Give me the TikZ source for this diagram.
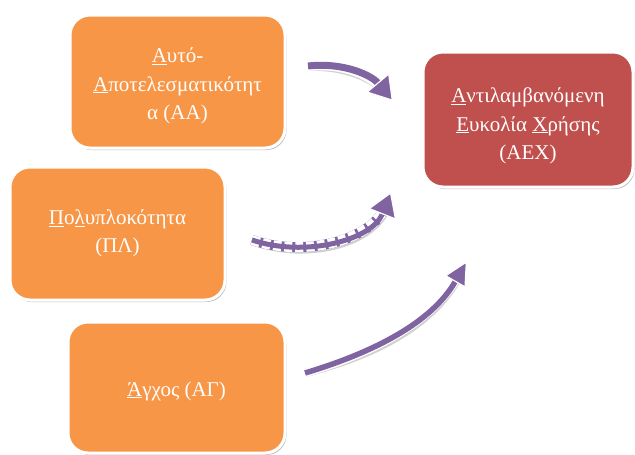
\documentclass[tikz,border=0pt]{standalone}
\usepackage{fontspec}
\setmainfont{Liberation Serif}
\usetikzlibrary{arrows.meta,shadows}
\definecolor{boxorange}{HTML}{F79646}
\definecolor{boxred}{HTML}{C0504D}
\definecolor{arrowpurple}{HTML}{8064A2}
\begin{document}
\begin{tikzpicture}[x=1pt,y=-1pt,
  box/.style={draw=white, line width=3pt, rounded corners=20pt, text=white,
    align=center, inner sep=4pt, font=\fontsize{21}{28.5}\selectfont,
    drop shadow={shadow xshift=1.5pt, shadow yshift=-2pt, opacity=0.25, fill=black}},
  orangebox/.style={box, fill=boxorange},
  redbox/.style={box, fill=boxred},
  arrowshadow/.style={draw=black, opacity=0.18, line width=10pt, shift={(1.5,2.5)}, shorten >=16pt},
  outline/.style={draw=white, line width=10pt, line cap=round, shorten >=16pt},
  shaft/.style={draw=arrowpurple, line width=7pt},
  headtip/.style={-{Triangle[length=24pt,width=30pt,fill=arrowpurple,color=white,line width=1.2pt]}}
]
\useasboundingbox (0,0) rectangle (635,455);

\node[orangebox, minimum width=215pt, minimum height=133pt] (AA) at (177.5,81.5)
  {\rule{0pt}{24pt}\underline{Α}υτό-\\\underline{Α}ποτελεσματικότητ\\α (ΑΑ)};
\node[redbox, minimum width=210pt, minimum height=135pt] (AEX) at (528,119.5)
  {\rule{0pt}{28pt}\underline{Α}ντιλαμβανόμενη\\\underline{Ε}υκολία \underline{Χ}ρήσης\\(ΑΕΧ)};
\node[orangebox, minimum width=215pt, minimum height=133pt] (PL) at (117.5,233.5)
  {\underline{Π}ο\underline{λ}υπλοκότητα\\(ΠΛ)};
\node[orangebox, minimum width=217pt, minimum height=131pt] (AG) at (176.5,387.5)
  {\rule{0pt}{22pt}\underline{Ά}γχος (ΑΓ)};

\coordinate (a1s) at (308,66);
\coordinate (a1e) at (393,101);
\coordinate (a2s) at (252,240);
\coordinate (a2e) at (391,192);
\coordinate (a3s) at (305,373);
\coordinate (a3e) at (467,261);

% top arrow
\draw[arrowshadow] (a1s) .. controls (345,62) and (372,76) .. (a1e);
\draw[outline] (a1s) .. controls (345,62) and (372,76) .. (a1e);
\draw[shaft, headtip] (a1s) .. controls (345,62) and (372,76) .. (a1e);

% dashed arrow
\draw[arrowshadow, line width=10pt] (a2s) .. controls (305,258) and (372,240) .. (a2e);
\draw[draw=arrowpurple, line width=10pt, shorten >=16pt] (a2s) .. controls (305,258) and (372,240) .. (a2e);
\draw[draw=white, line width=10pt, dash pattern=on 8pt off 3pt, shorten >=16pt] (a2s) .. controls (305,258) and (372,240) .. (a2e);
\draw[draw=arrowpurple, line width=5pt, headtip] (a2s) .. controls (305,258) and (372,240) .. (a2e);

% bottom arrow
\draw[arrowshadow, line width=8.5pt] (a3s) .. controls (375,352) and (432,322) .. (a3e);
\draw[outline, line width=8.5pt] (a3s) .. controls (375,352) and (432,322) .. (a3e);
\draw[shaft, line width=5.5pt, -{Triangle[length=24pt,width=24pt,fill=arrowpurple,color=white,line width=1.2pt]}] (a3s) .. controls (375,352) and (432,322) .. (a3e);
\end{tikzpicture}
\end{document}
